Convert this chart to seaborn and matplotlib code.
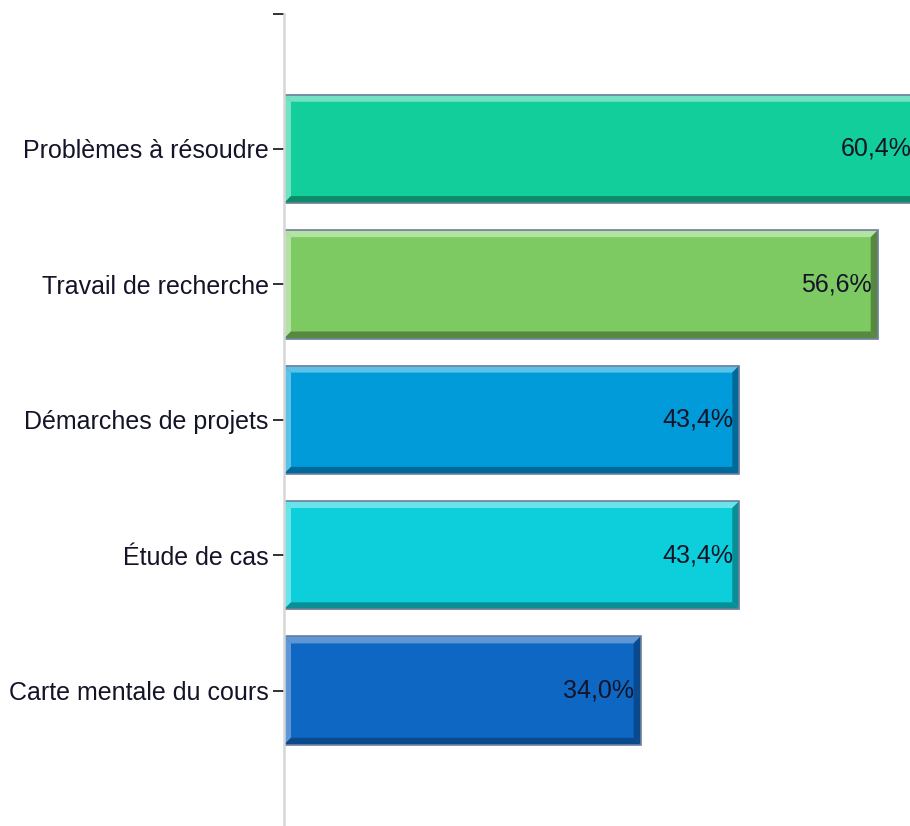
import matplotlib
matplotlib.use("Agg")
import matplotlib.pyplot as plt
from matplotlib.patches import Polygon, Rectangle
import seaborn as sns
import pandas as pd

categories = ["Problèmes à résoudre", "Travail de recherche", "Démarches de projets",
              "Étude de cas", "Carte mentale du cours"]
values = [60.4, 56.6, 43.4, 43.4, 34.0]
value_labels = ["60,4%", "56,6%", "43,4%", "43,4%", "34,0%"]
main_colors = ["#12CE9A", "#7DCA62", "#009BD8", "#0CCFDB", "#0E68C3"]
light_colors = ["#72E2C3", "#B3E2A3", "#5EC1E8", "#6AE3EB", "#5F97D6"]
dark_colors = ["#0D8A66", "#56883F", "#00699A", "#098E96", "#0A4A8C"]

df = pd.DataFrame({"cat": categories, "val": values})

sns.set_theme(style="white")
plt.rcParams["font.family"] = ["Liberation Sans", "DejaVu Sans"]

W, H, DPI = 9.1, 8.26, 100
fig = plt.figure(figsize=(W, H), dpi=DPI)
ax_left = 284 / 910
ax_top_px = 13.5
ax = fig.add_axes([ax_left, 0.0, 1 - ax_left, (826 - ax_top_px) / 826])

sns.barplot(data=df, y="cat", x="val", hue="cat", palette=main_colors,
            orient="h", width=0.8, legend=False, ax=ax,
            edgecolor="none", linewidth=0, saturation=1)

xmax = (910 - 284) / 10.49
ax.set_xlim(0, xmax)
ax.set_ylim(5.0, -1.0)

# pixel -> data conversions
ax_w_px = W * DPI * (1 - ax_left)
ax_h_px = H * DPI * (826 - ax_top_px) / 826
bev = 7.0
dx = bev * xmax / ax_w_px
dy = bev * 6.0 / ax_h_px

for i, cont in enumerate(ax.containers):
    for p in cont.patches:
        x0 = p.get_x()
        x1 = x0 + p.get_width()
        yt = p.get_y()
        yb = yt + p.get_height()
        z = p.get_zorder()
        light = light_colors[i]
        dark = dark_colors[i]
        polys = [
            ([(x0, yt), (x1, yt), (x1 - dx, yt + dy), (x0 + dx, yt + dy)], light),
            ([(x0, yt), (x0 + dx, yt + dy), (x0 + dx, yb - dy), (x0, yb)], light),
            ([(x0, yb), (x0 + dx, yb - dy), (x1 - dx, yb - dy), (x1, yb)], dark),
            ([(x1, yt), (x1 - dx, yt + dy), (x1 - dx, yb - dy), (x1, yb)], dark),
        ]
        for pts, c in polys:
            ax.add_patch(Polygon(pts, closed=True, facecolor=c, edgecolor="none",
                                 zorder=z + 0.1))
        ax.add_patch(Rectangle((x0, yt), x1 - x0, yb - yt, fill=False,
                               edgecolor="#6E7E9C", linewidth=1.2, zorder=z + 0.2))
        ax.annotate(value_labels[i], xy=(x1, (yt + yb) / 2), xytext=(-4.5, 0),
                    textcoords="offset points", ha="right", va="center",
                    fontsize=18, color="#141428", zorder=z + 0.3,
                    annotation_clip=False)

ax.set_yticks([-1, 0, 1, 2, 3, 4])
ax.set_yticklabels([""] + categories, fontsize=18, color="#141428")
ax.tick_params(axis="y", length=8, width=1.4, color="#333333", pad=3, left=True)
ax.set_xticks([])
ax.set_xlabel("")
ax.set_ylabel("")
for s in ["top", "right", "bottom"]:
    ax.spines[s].set_visible(False)
ax.spines["left"].set_color("#D6D6D6")
ax.spines["left"].set_linewidth(1.8)
ax.set_facecolor("white")
fig.patch.set_facecolor("white")

fig.savefig("out.png", dpi=DPI)
